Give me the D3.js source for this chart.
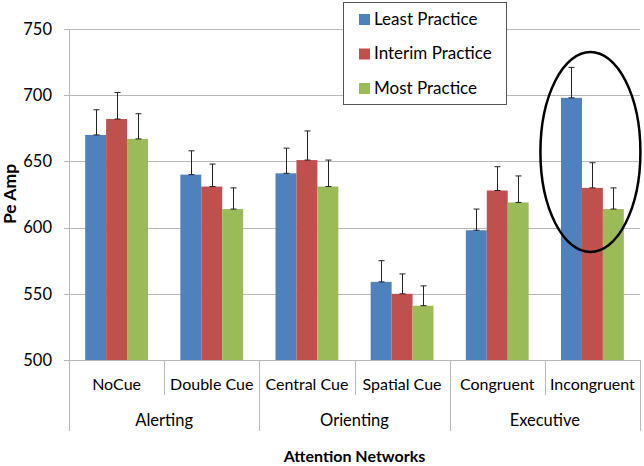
<!DOCTYPE html>
<html>
<head>
<meta charset="utf-8">
<script src="https://cdn.jsdelivr.net/npm/d3@7"></script>
<style>
  html, body { margin: 0; padding: 0; background: #fff; }
  svg { display: block; font-family: Lato, "Open Sans", sans-serif; }
</style>
</head>
<body>
<svg id="chart" width="644" height="466"></svg>
<script>
const categories = ["NoCue", "Double Cue", "Central Cue", "Spatial Cue", "Congruent", "Incongruent"];
const groups = [
  { name: "Alerting", from: 0, to: 1 },
  { name: "Orienting", from: 2, to: 3 },
  { name: "Executive", from: 4, to: 5 }
];
const seriesNames = ["Least Practice", "Interim Practice", "Most Practice"];
const seriesColors = ["#4F81BD", "#C0504D", "#9BBB59"];
const leastValues   = [670, 640, 641, 559, 598, 698];
const interimValues = [682, 631, 651, 550, 628, 630];
const mostValues    = [667, 614, 631, 541, 619, 614];
const leastErr   = [19, 18, 19, 16, 16, 23];
const interimErr = [20, 17, 22, 15, 18, 19];
const mostErr    = [19, 16, 20, 15, 20, 16];
const yTicks = [500, 550, 600, 650, 700, 750];

const values = [leastValues, interimValues, mostValues];
const errs = [leastErr, interimErr, mostErr];

const svg = d3.select("#chart");
const mLeft = 69, mRight = 640, mTop = 29, mBottom = 360;

const x = d3.scaleBand().domain(categories).range([mLeft, mRight]).paddingInner(0).paddingOuter(0);
const y = d3.scaleLinear().domain([500, 750]).range([mBottom, mTop]);
const groupPad = 0.17;
const xs = d3.scaleBand().domain(seriesNames)
  .range([x.bandwidth() * groupPad, x.bandwidth() * (1 - groupPad)]);

// gridlines
svg.append("g").selectAll("line").data(yTicks).join("line")
  .attr("x1", mLeft - 5).attr("x2", mRight)
  .attr("y1", d => Math.round(y(d)) + 0.5).attr("y2", d => Math.round(y(d)) + 0.5)
  .attr("stroke", "#b8b8b8").attr("stroke-width", 1);

// y axis line
svg.append("line").attr("x1", mLeft + 0.5).attr("x2", mLeft + 0.5)
  .attr("y1", mTop).attr("y2", mBottom).attr("stroke", "#b8b8b8");

// y tick labels
svg.append("g").selectAll("text").data(yTicks).join("text")
  .attr("x", mLeft - 17).attr("y", d => y(d))
  .attr("dy", "0.35em").attr("text-anchor", "end")
  .attr("font-size", 16.5).attr("fill", "#000").text(d => d);

// bars
seriesNames.forEach((s, si) => {
  svg.append("g").selectAll("rect").data(categories).join("rect")
    .attr("x", c => x(c) + xs(s))
    .attr("width", xs.bandwidth())
    .attr("y", (c, i) => y(values[si][i]))
    .attr("height", (c, i) => y(500) - y(values[si][i]))
    .attr("fill", seriesColors[si]);
});

// error bars
seriesNames.forEach((s, si) => {
  const g = svg.append("g").attr("stroke", "#222").attr("stroke-width", 1);
  categories.forEach((c, i) => {
    const cx = Math.round(x(c) + xs(s) + xs.bandwidth() / 2) + 0.5;
    const y0 = y(values[si][i]);
    const y1 = y(values[si][i] + errs[si][i]);
    g.append("line").attr("x1", cx).attr("x2", cx).attr("y1", y0).attr("y2", y1);
    g.append("line").attr("x1", cx - 3).attr("x2", cx + 3).attr("y1", y1).attr("y2", y1);
    g.append("line").attr("x1", cx - 3).attr("x2", cx + 3).attr("y1", y0).attr("y2", y0);
  });
});

// x axis category separators
const seps = d3.range(categories.length + 1).map(i => mLeft + i * x.bandwidth());
const groupEdges = new Set([0, 2, 4, 6]);
svg.append("g").selectAll("line").data(seps).join("line")
  .attr("x1", d => Math.round(d) + 0.5).attr("x2", d => Math.round(d) + 0.5)
  .attr("y1", mBottom)
  .attr("y2", (d, i) => groupEdges.has(i) ? 431 : 395)
  .attr("stroke", "#b8b8b8");

// category labels
svg.append("g").selectAll("text").data(categories).join("text")
  .attr("x", c => x(c) + x.bandwidth() / 2).attr("y", 384)
  .attr("dy", "0.35em").attr("text-anchor", "middle")
  .attr("font-size", 16).text(c => c);

// group labels
svg.append("g").selectAll("text").data(groups).join("text")
  .attr("x", g => (x(categories[g.from]) + x(categories[g.to]) + x.bandwidth()) / 2)
  .attr("y", 420).attr("dy", "0.35em").attr("text-anchor", "middle")
  .attr("font-size", 16.5).text(g => g.name);

// axis titles
svg.append("text").attr("x", (mLeft + mRight) / 2).attr("y", 456)
  .attr("dy", "0.35em").attr("text-anchor", "middle")
  .attr("font-size", 16).attr("font-weight", "bold").text("Attention Networks");
svg.append("text").attr("transform", "translate(10,194) rotate(-90)")
  .attr("dy", "0.35em").attr("text-anchor", "middle")
  .attr("font-size", 17.5).attr("font-weight", "bold").text("Pe Amp");

// legend
const lg = svg.append("g");
lg.append("rect").attr("x", 343.5).attr("y", 2.5).attr("width", 163).attr("height", 102)
  .attr("fill", "#fff").attr("stroke", "#555");
seriesNames.forEach((s, i) => {
  const cy = 19 + i * 34.5;
  lg.append("rect").attr("x", 359).attr("y", cy - 5).attr("width", 11).attr("height", 11)
    .attr("fill", seriesColors[i]);
  lg.append("text").attr("x", 374).attr("y", cy).attr("dy", "0.35em")
    .attr("font-size", 17).text(s);
});

// highlight ellipse around Incongruent
const incX = x("Incongruent") + x.bandwidth() / 2;
svg.append("ellipse").attr("cx", incX - 2).attr("cy", 152).attr("rx", 50).attr("ry", 100)
  .attr("fill", "none").attr("stroke", "#000").attr("stroke-width", 2.5);
</script>
</body>
</html>
